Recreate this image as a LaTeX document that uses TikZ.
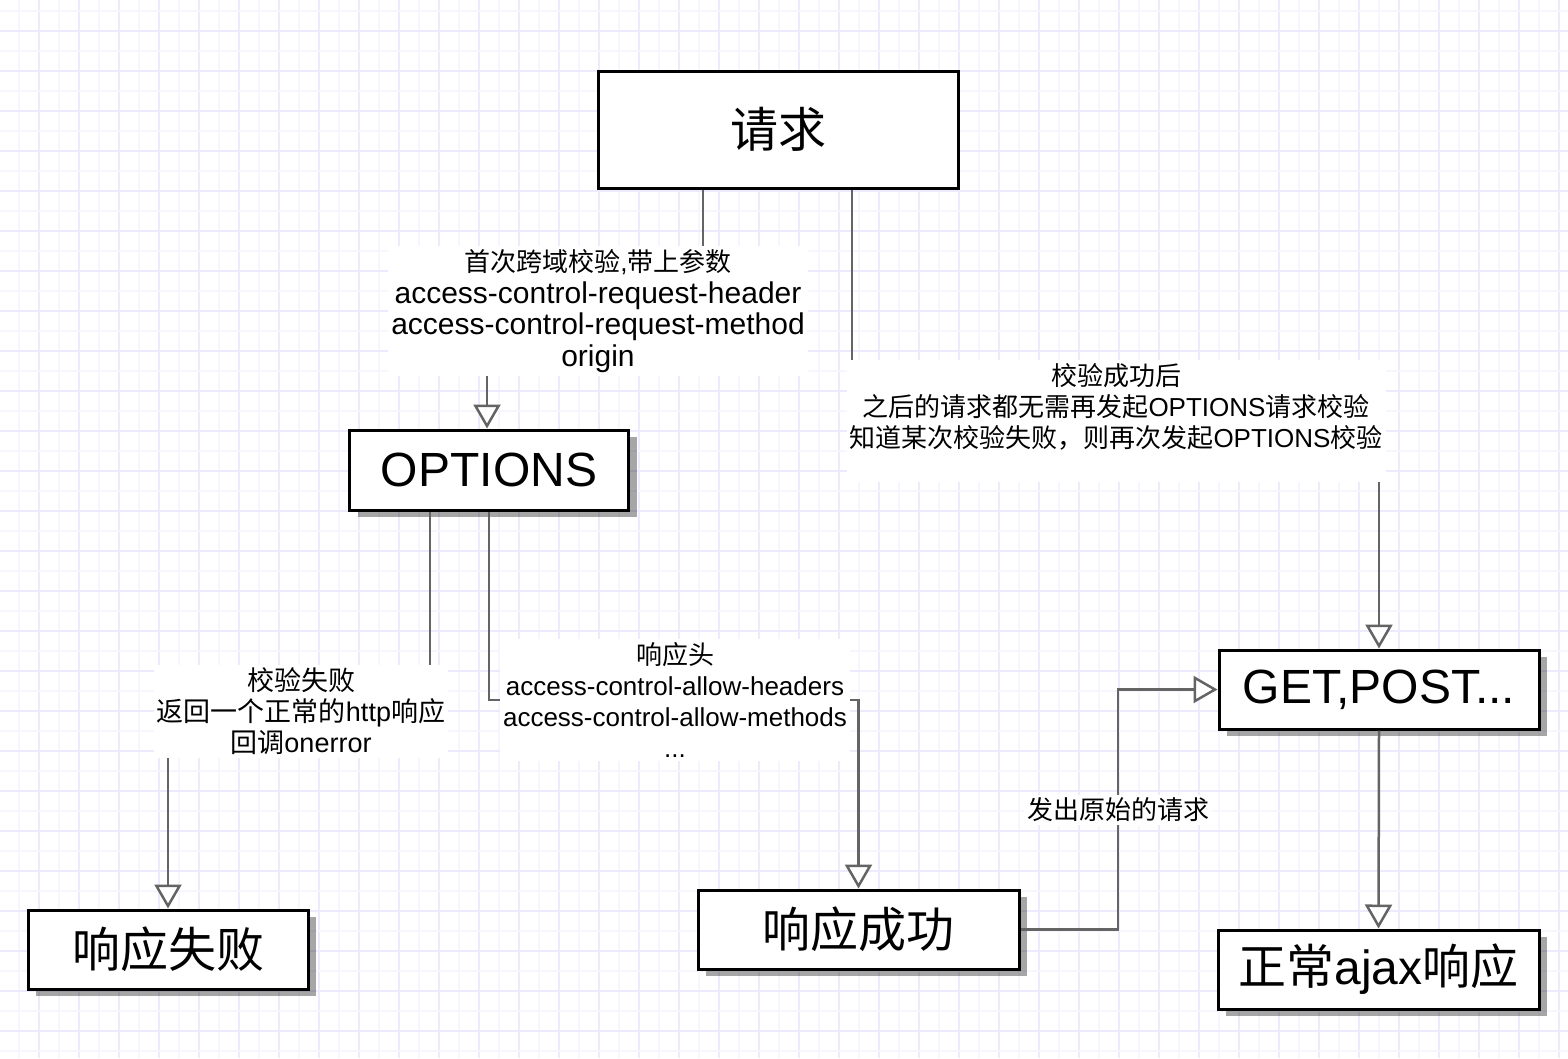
\documentclass[tikz,border=0pt]{standalone}
\usepackage{fontspec}
\setmainfont{Liberation Sans}
\newfontfamily\cjk{Noto Sans CJK SC}
\usetikzlibrary{
	arrows.meta,
	shadows,
	positioning
}

\definecolor{gridmajor}{RGB}{236,235,253}
\definecolor{gridminor}{RGB}{246,246,254}
\definecolor{flowgray}{RGB}{100,100,100}

\tikzset{
    box/.style={draw=black, line width=3pt, fill=white, inner sep=0pt,
        minimum height=79pt, font=\fontsize{48}{56}\selectfont},
    shadowed/.style={drop shadow={shadow xshift=8pt, shadow yshift=-7pt,
        fill=black, opacity=0.35}},
    flow/.style={draw=flowgray, line width=2.5pt,
        -{Triangle[length=24pt, width=27pt, fill=white]}},
    note/.style={fill=white, align=center, inner sep=3pt,
        font=\fontsize{26}{31}\selectfont}
}

\begin{document}
\begin{tikzpicture}[x=1pt, y=-1pt]
    % Definitions
    \def \gridwidth{1.5pt}
    \useasboundingbox (0,0) rectangle (1568,1058);
    %%%
    %%% Background grid
    %%%
    \foreach \gx in {19,59,...,1559}
    {
        \draw[gridminor, line width=\gridwidth] (\gx,0) -- (\gx,1058);
    }
    \foreach \gx in {39,79,...,1559}
    {
        \draw[gridmajor, line width=\gridwidth] (\gx,0) -- (\gx,1058);
    }
    \foreach \gy in {11,51,...,1058}
    {
        \draw[gridminor, line width=\gridwidth] (0,\gy) -- (1568,\gy);
    }
    \foreach \gy in {31,71,...,1058}
    {
        \draw[gridmajor, line width=\gridwidth] (0,\gy) -- (1568,\gy);
    }
    %%%
    %%% Boxes
    %%%
    \node[box, minimum width=360pt, minimum height=117pt] (req) at (778,129.5) {\cjk 请求};
    \node[box, shadowed, minimum width=279pt, minimum height=80pt] (opt) at (489,470) {OPTIONS};
    \node[box, shadowed, minimum width=320pt] (get) at (1379,689.5) {GET,POST...};
    \node[box, shadowed, minimum width=280pt] (fail) at (168,949.5) {\cjk 响应失败};
    \node[box, shadowed, minimum width=321pt] (succ) at (858.5,929.5) {\cjk 响应成功};
    \node[box, shadowed, minimum width=321pt] (ajax) at (1378.5,969.5) {{\cjk 正常}ajax{\cjk 响应}};
    % Bends where the labels sit
    \coordinate (benda) at (598,311);
    \coordinate (bendb) at (1116,421);
    \coordinate (bendc) at (301,711);
    \coordinate (bendd) at (675,700);
    \coordinate (bende) at (1118,810);
    %%%
    %%% Connectors
    %%%
    \draw[flow] ([xshift=-75pt]req.south) |- (benda) -| ([xshift=-2pt]opt.north);
    \draw[flow] ([xshift=74pt]req.south) |- (bendb) -| (get.north);
    \draw[flow] ([xshift=-59pt]opt.south) |- (bendc) -| (fail.north);
    \draw[flow] (opt.south) |- (bendd) -| (succ.north);
    \draw[flow] (succ.east) -| (bende) |- (get.west);
    \draw[flow] (get.south) -- (ajax.north);
    %%%
    %%% Labels
    %%%
    \node[note, font=\fontsize{30}{31.7}\selectfont] (lbla) at (benda) {{\fontsize{26}{31.7}\selectfont{\cjk 首次跨域校验},{\cjk 带上参数}}\\access-control-request-header\\access-control-request-method\\origin};
    \node[note] (lblb) at (bendb) {{\cjk 校验成功后}\\{\cjk 之后的请求都无需再发起}OPTIONS{\cjk 请求校验}\\{\cjk 知道某次校验失败，则再次发起}OPTIONS{\cjk 校验}\\\mbox{}};
    \node[note, font=\fontsize{27}{31}\selectfont] (lblc) at (bendc) {{\cjk 校验失败}\\{\cjk 返回一个正常的}http{\cjk 响应}\\{\cjk 回调}onerror};
    \node[note] (lbld) at (bendd) {{\cjk 响应头}\\access-control-allow-headers\\access-control-allow-methods\\...};
    \node[note] (lble) at (bende) {\cjk 发出原始的请求};
\end{tikzpicture}
\end{document}
